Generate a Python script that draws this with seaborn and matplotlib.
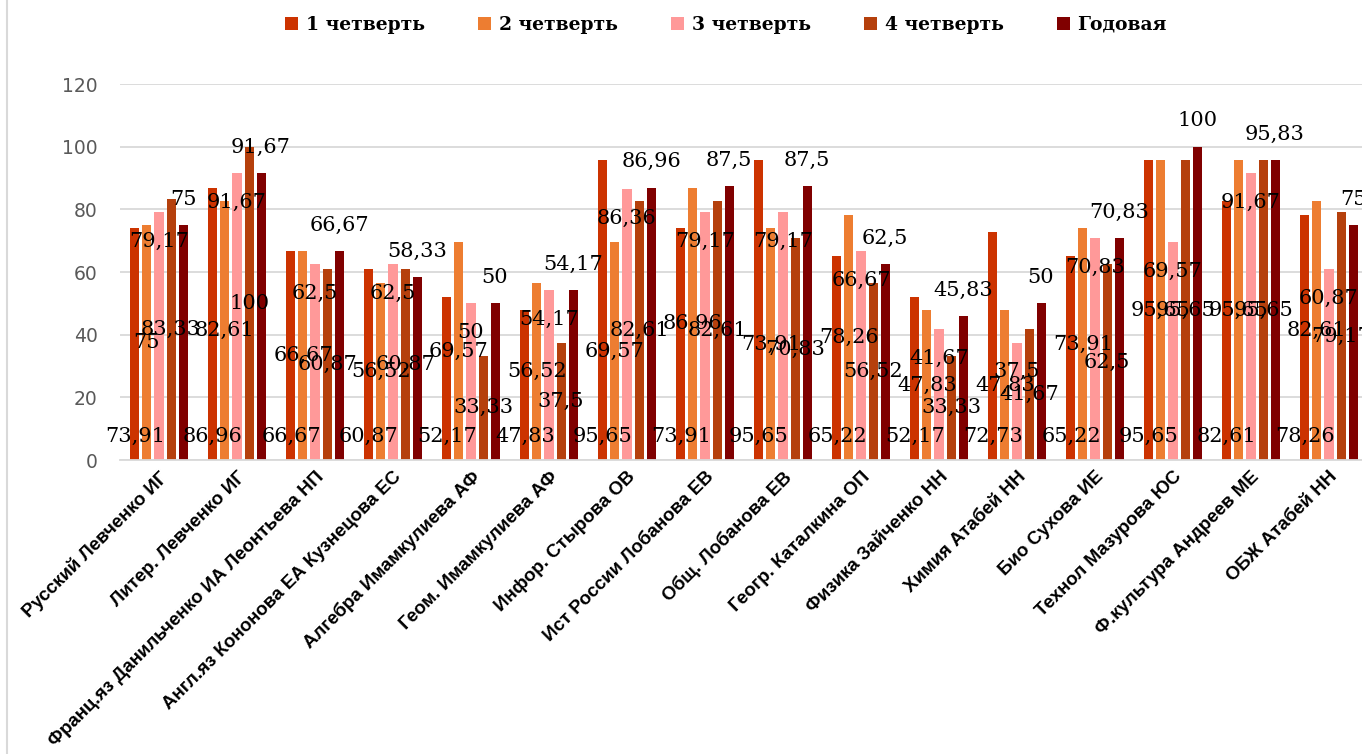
import matplotlib
matplotlib.use("Agg")
import matplotlib.pyplot as plt
import seaborn as sns
import pandas as pd
from matplotlib.lines import Line2D

subjects = [
    "Русский Левченко ИГ", "Литер. Левченко ИГ", "Франц.яз Данильченко ИА Леонтьева НП",
    "Англ.яз Кононова ЕА Кузнецова ЕС", "Алгебра Имамкулиева АФ", "Геом. Имамкулиева АФ",
    "Инфор. Стырова ОВ", "Ист России Лобанова ЕВ", "Общ. Лобанова ЕВ", "Геогр. Каталкина ОП",
    "Физика Зайченко НН", "Химия Атабей НН", "Био Сухова ИЕ", "Технол Мазурова ЮС",
    "Ф.культура Андреев МЕ", "ОБЖ Атабей НН",
]
series = ["1 четверть", "2 четверть", "3 четверть", "4 четверть", "Годовая"]
q1 = [73.91, 86.96, 66.67, 60.87, 52.17, 47.83, 95.65, 73.91, 95.65, 65.22, 52.17, 72.73, 65.22, 95.65, 82.61, 78.26]
q2 = [75, 82.61, 66.67, 56.52, 69.57, 56.52, 69.57, 86.96, 73.91, 78.26, 47.83, 47.83, 73.91, 95.65, 95.65, 82.61]
q3 = [79.17, 91.67, 62.5, 62.5, 50, 54.17, 86.36, 79.17, 79.17, 66.67, 41.67, 37.5, 70.83, 69.57, 91.67, 60.87]
q4 = [83.33, 100, 60.87, 60.87, 33.33, 37.5, 82.61, 82.61, 70.83, 56.52, 33.33, 41.67, 62.5, 95.65, 95.65, 79.17]
year = [75, 91.67, 66.67, 58.33, 50, 54.17, 86.96, 87.5, 87.5, 62.5, 45.83, 50, 70.83, 100, 95.83, 75]
colors = ["#CC3300", "#ED7D31", "#FF9999", "#B5400C", "#800000"]
# Excel-style label positions per series
label_pos = ["inside_base", "center", "inside_end", "center", "outside_end"]

values = [q1, q2, q3, q4, year]
rows = []
for s, vals in zip(series, values):
    for subj, v in zip(subjects, vals):
        rows.append({"subject": subj, "series": s, "value": v})
df = pd.DataFrame(rows)

W, H, DPI = 1362, 754, 100
fig = plt.figure(figsize=(W / DPI, H / DPI), dpi=DPI)
ax = fig.add_axes([120 / W, (H - 460) / H, 1248 / W, 376 / H])

sns.barplot(data=df, x="subject", y="value", hue="series", order=subjects,
            hue_order=series, palette=dict(zip(series, colors)),
            width=0.77, gap=0.25, saturation=1, ax=ax, legend=True,
            edgecolor="none", linewidth=0, zorder=2)

ax.set_ylim(0, 120)
ax.set_xlim(-0.5, len(subjects) - 0.5)
ax.set_yticks(range(0, 121, 20))
ax.yaxis.grid(True, color="#D9D9D9", linewidth=1.3, zorder=0)
ax.set_axisbelow(True)
for sp in ["top", "right", "left"]:
    ax.spines[sp].set_visible(False)
ax.spines["bottom"].set_color("#D9D9D9")
ax.spines["bottom"].set_linewidth(1.3)
ax.tick_params(axis="both", length=0)
ax.tick_params(axis="y", pad=16, labelsize=13.5, labelcolor="#595959")
for t in ax.get_yticklabels():
    t.set_fontfamily("DejaVu Sans")
ax.set_xlabel("")
ax.set_ylabel("")
ax.set_xticks(range(len(subjects)))
ax.set_xticklabels(subjects, rotation=45, ha="right", rotation_mode="anchor",
                   fontsize=13.5, fontweight="bold", family="Liberation Sans")
ax.tick_params(axis="x", pad=6)

# data labels
for cont, pos, vals in zip(ax.containers, label_pos, values):
    for bar, v in zip(cont.patches, vals):
        xc = bar.get_x() + bar.get_width() / 2
        txt = f"{v:g}".replace(".", ",")
        if pos == "inside_base":
            xy, off = (xc, 0), 17
        elif pos == "center":
            xy, off = (xc, v / 2), 0
        elif pos == "inside_end":
            xy, off = (xc, v), -21
        else:
            xy, off = (xc, v), 18.5
        ax.annotate(txt, xy=xy, xytext=(0, off), textcoords="offset points",
                    ha="center", va="center", fontsize=15, family="DejaVu Serif",
                    color="black", zorder=5)

# legend
handles, labels = ax.get_legend_handles_labels()
ax.legend_.remove()
fig.legend(handles, labels, loc="center", bbox_to_anchor=(726 / W, 1 - 25 / H),
           ncol=5, frameon=False, handlelength=0.7, handleheight=0.7,
           handletextpad=0.4, columnspacing=2.85,
           prop={"family": "DejaVu Serif", "weight": "bold", "size": 13.5})

# chart area border on the left
fig.add_artist(Line2D([7 / W, 7 / W], [0, 1], transform=fig.transFigure,
                      color="#D9D9D9", linewidth=1.5))

fig.savefig("out.png", dpi=DPI)
